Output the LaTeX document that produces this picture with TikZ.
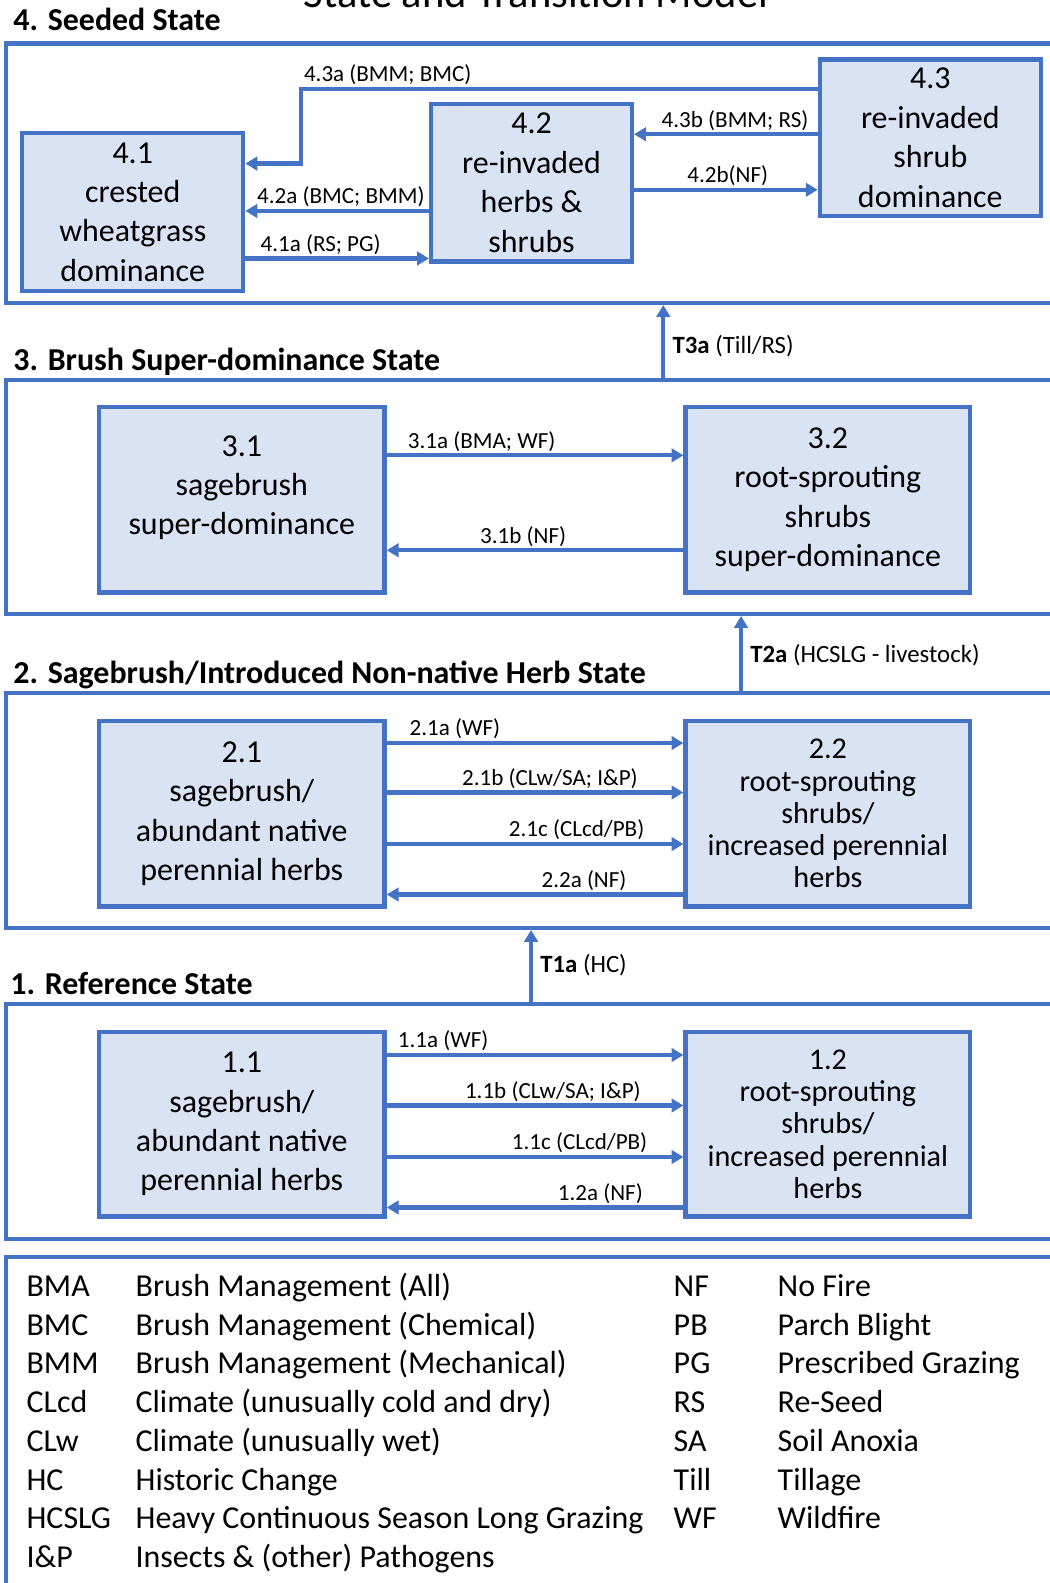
\documentclass[tikz,border=0pt]{standalone}
\usepackage{fontspec}
\setmainfont{Carlito}
\usetikzlibrary{arrows.meta,positioning}
\definecolor{stmblue}{HTML}{4472C4}
\definecolor{stmfill}{HTML}{DAE3F3}
\tikzset{
        statebox/.style = {draw=stmblue, fill=stmfill, line width=2.4pt,
            align=center, inner sep=0pt,
            font=\fontsize{18}{22.2}\selectfont},
        smallbox/.style = {statebox, font=\fontsize{17}{18.2}\selectfont},
        stategroup/.style = {draw=stmblue, line width=2.4pt,
            anchor=north west, minimum width=22cm},
        arrow/.style = {draw=stmblue, line width=2.4pt,
            -{Triangle[length=6.7pt,width=7.6pt]}},
        arrowlabel/.style = {font=\fontsize{13}{15}\selectfont, inner sep=1pt},
        tlabel/.style = {font=\fontsize{14}{16}\selectfont, inner sep=4pt},
        grouptitle/.style = {anchor=base west, inner sep=0pt,
            font=\bfseries\fontsize{18}{22}\selectfont},
        keytext/.style = {anchor=base west, inner sep=0pt,
            font=\fontsize{18}{22}\selectfont},
    }

\begin{document}
\begin{tikzpicture}[x=0.02cm, y=-0.02cm]
\useasboundingbox (0,0) rectangle (1040,1568);

\node[anchor=base, inner sep=0pt, font=\fontsize{24}{28}\selectfont] (head) at (531,7) {State and Transition Model};

% 4. Seeded State
\node[grouptitle] (t4) at (13,30) {4. Seeded State};
\node[stategroup, minimum height=5.14cm] (g4) at (4,41) {};
\node[statebox, minimum width=4.38cm, minimum height=3.12cm] (s41) at (131.5,210) {4.1\\crested\\wheatgrass\\dominance};
\node[statebox, minimum width=3.98cm, minimum height=3.12cm] (s42) at (526.5,181) {4.2\\re-invaded\\herbs \&\\shrubs};
\node[statebox, minimum width=4.38cm, minimum height=3.10cm] (s43) at (921.5,136.5) {4.3\\re-invaded\\shrub\\dominance};

\draw[arrow] (s43.west |- 0,88) -| node[arrowlabel, above, pos=0.416] {4.3a (BMM; BMC)} (298,162) -- (s41.east |- 0,162);
\draw[arrow] (s43.west |- 0,133) -- node[arrowlabel, above, pos=0.45] {4.3b (BMM; RS)} (s42.east |- 0,133);
\draw[arrow] (s42.east |- 0,188) -- node[arrowlabel, above, pos=0.51] {4.2b(NF)} (s43.west |- 0,188);
\draw[arrow] (s42.west |- 0,209) -- node[arrowlabel, above, pos=0.48] {4.2a (BMC; BMM)} (s41.east |- 0,209);
\draw[arrow] (s41.east |- 0,256) -- node[arrowlabel, above, pos=0.41] {4.1a (RS; PG)} (s42.west |- 0,256);

% 3. Brush Super-dominance State
\node[grouptitle] (t3) at (13,367) {3. Brush Super-dominance State};
\node[stategroup, minimum height=4.64cm] (g3) at (4,374) {};
\node[statebox, minimum width=5.66cm, minimum height=3.68cm] (s31) at (239.5,495) {3.1\\sagebrush\\super-dominance\\[-5.6pt]~};
\node[statebox, minimum width=5.64cm, minimum height=3.68cm] (s32) at (820,495) {3.2\\root-sprouting\\shrubs\\super-dominance};

\draw[arrow] (s31.east |- 0,451) -- node[arrowlabel, above, pos=0.32] {3.1a (BMA; WF)} (s32.west |- 0,451);
\draw[arrow] (s32.west |- 0,545) -- node[arrowlabel, above, pos=0.54] {3.1b (NF)} (s31.east |- 0,545);

\draw[arrow] (g3.north -| 657,0) -- node[tlabel, right, pos=0.43] {\textbf{T3a} (Till/RS)} (g4.south -| 657,0);

% 2. Sagebrush/Introduced Non-native Herb State
\node[grouptitle] (t2) at (13,677) {2. Sagebrush/Introduced Non-native Herb State};
\node[stategroup, minimum height=4.66cm] (g2) at (4,684) {};
\node[statebox, minimum width=5.66cm, minimum height=3.68cm] (s21) at (239.5,806) {2.1\\sagebrush/\\abundant native\\perennial herbs};
\node[smallbox, minimum width=5.64cm, minimum height=3.68cm] (s22) at (820,806) {2.2\\root-sprouting\\shrubs/\\increased perennial\\herbs};

\draw[arrow] (s21.east |- 0,736) -- node[arrowlabel, above, pos=0.23] {2.1a (WF)} (s22.west |- 0,736);
\draw[arrow] (s21.east |- 0,785) -- node[arrowlabel, above, pos=0.55] {2.1b (CLw/SA; I\&P)} (s22.west |- 0,785);
\draw[arrow] (s21.east |- 0,836) -- node[arrowlabel, above, pos=0.64] {2.1c (CLcd/PB)} (s22.west |- 0,836);
\draw[arrow] (s22.west |- 0,886) -- node[arrowlabel, above, pos=0.335] {2.2a (NF)} (s21.east |- 0,886);

\draw[arrow] (g2.north -| 734,0) -- node[tlabel, right, pos=0.47] {\textbf{T2a} (HCSLG - livestock)} (g3.south -| 734,0);

% 1. Reference State
\node[grouptitle] (t1) at (10,985) {1. Reference State};
\node[stategroup, minimum height=4.66cm] (g1) at (4,992) {};
\node[statebox, minimum width=5.66cm, minimum height=3.66cm] (s11) at (239.5,1113.5) {1.1\\sagebrush/\\abundant native\\perennial herbs};
\node[smallbox, minimum width=5.64cm, minimum height=3.66cm] (s12) at (820,1113.5) {1.2\\root-sprouting\\shrubs/\\increased perennial\\herbs};

\draw[arrow] (s11.east |- 0,1045) -- node[arrowlabel, above, pos=0.19] {1.1a (WF)} (s12.west |- 0,1045);
\draw[arrow] (s11.east |- 0,1095) -- node[arrowlabel, above, pos=0.56] {1.1b (CLw/SA; I\&P)} (s12.west |- 0,1095);
\draw[arrow] (s11.east |- 0,1146) -- node[arrowlabel, above, pos=0.65] {1.1c (CLcd/PB)} (s12.west |- 0,1146);
\draw[arrow] (s12.west |- 0,1196) -- node[arrowlabel, above, pos=0.28] {1.2a (NF)} (s11.east |- 0,1196);

\draw[arrow] (g1.north -| 526,0) -- node[tlabel, right, pos=0.51] {\textbf{T1a} (HC)} (g2.south -| 526,0);

% key to the abbreviations
\node[stategroup, minimum height=8cm] (gk) at (4,1243) {};
\foreach \ab/\txt [count=\i from 0] in {BMA/Brush Management (All), BMC/Brush Management (Chemical),
    BMM/Brush Management (Mechanical), CLcd/Climate (unusually cold and dry),
    CLw/Climate (unusually wet), HC/Historic Change,
    HCSLG/Heavy Continuous Season Long Grazing, I\&P/Insects \& (other) Pathogens}
{
  \node[keytext] (ka\i) at (26,1284+38.4*\i) {\ab};
  \node[keytext] (kb\i) at (134,1284+38.4*\i) {\txt};
}
\foreach \ab/\txt [count=\i from 0] in {NF/No Fire, PB/Parch Blight, PG/Prescribed Grazing,
    RS/Re-Seed, SA/Soil Anoxia, Till/Tillage, WF/Wildfire}
{
  \node[keytext] (kc\i) at (667,1284+38.4*\i) {\ab};
  \node[keytext] (kd\i) at (770,1284+38.4*\i) {\txt};
}
\end{tikzpicture}
\end{document}
